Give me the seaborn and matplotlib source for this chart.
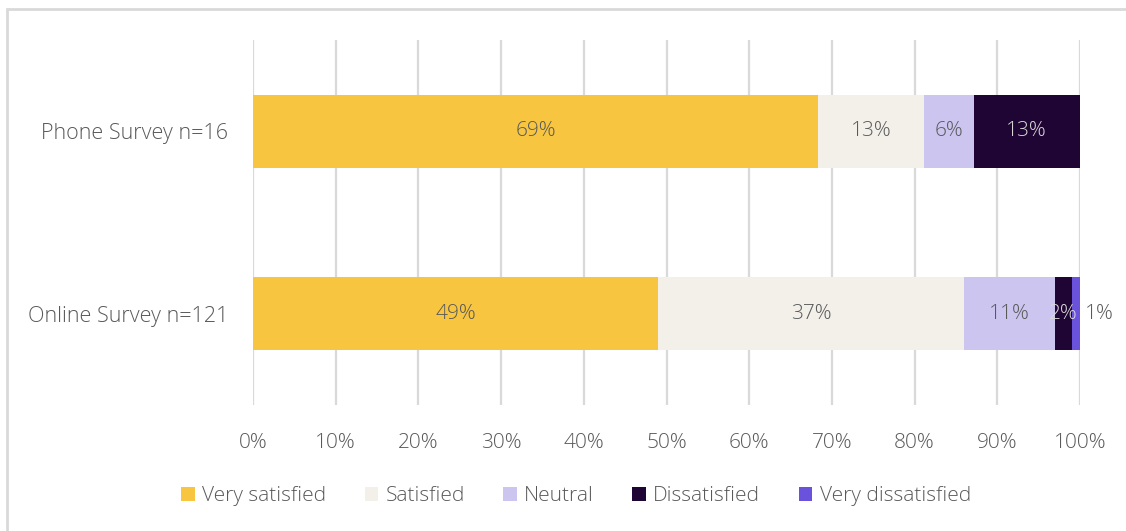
import matplotlib
matplotlib.use("Agg")
import matplotlib.pyplot as plt
import seaborn as sns
import pandas as pd
import numpy as np
from matplotlib.patches import Rectangle, Patch

categories = ["Phone Survey n=16", "Online Survey n=121"]
levels = ["Very satisfied", "Satisfied", "Neutral", "Dissatisfied", "Very dissatisfied"]
very_satisfied = [69, 49]
satisfied = [13, 37]
neutral = [6, 11]
dissatisfied = [13, 2]
very_dissatisfied = [0, 1]
tick_labels = ["0%", "10%", "20%", "30%", "40%", "50%", "60%", "70%", "80%", "90%", "100%"]

colors = ["#F7C540", "#F3F0EA", "#CCC5F0", "#1F0533", "#6B52DC"]
label_colors = ["#595959", "#595959", "#595959", "#D9D9D9", "#595959"]

sns.set_theme(style="white")
plt.rcParams["font.family"] = ["Open Sans", "DejaVu Sans"]
FW = "light"
FS = 15

series = [very_satisfied, satisfied, neutral, dissatisfied, very_dissatisfied]
df = pd.DataFrame({lvl: vals for lvl, vals in zip(levels, series)}, index=categories)
# 100% stacked: normalise each row to its total
share = df.div(df.sum(axis=1), axis=0) * 100

fig = plt.figure(figsize=(11.26, 5.31), dpi=100)
ax = fig.add_axes([253/1126, 1-405/531, (1080-253)/1126, (405-40)/531])

left = np.zeros(len(categories))
for i, lvl in enumerate(levels):
    vals = share[lvl].values
    raw = df[lvl].values
    sns.barplot(x=vals, y=categories, left=left, color=colors[i], orient="h",
                width=0.4, ax=ax, linewidth=0, saturation=1, zorder=3)
    for j, v in enumerate(vals):
        if raw[j] <= 0:
            continue
        cx = left[j] + v / 2
        if lvl == "Very dissatisfied":
            cx = left[j] + v + 2.3
        ax.text(cx, j, f"{raw[j]:d}%", ha="center", va="center",
                color=label_colors[i], fontsize=FS, fontweight=FW, zorder=5)
    left = left + vals

ax.set_xlim(0, 100)
ax.set_ylim(1.5, -0.5)
ax.set_xticks(np.arange(0, 101, 10))
ax.set_xticklabels(tick_labels)
ax.xaxis.grid(True, color="#D9D9D9", linewidth=1.6, zorder=0)
ax.yaxis.grid(False)
for s in ax.spines.values():
    s.set_visible(False)
ax.tick_params(axis="x", length=0, pad=20, labelsize=FS, labelcolor="#595959")
ax.tick_params(axis="y", length=0, pad=18, labelsize=15.5, labelcolor="#595959")
for t in ax.get_xticklabels() + ax.get_yticklabels():
    t.set_fontweight(FW)
ax.set_xlabel("")
ax.set_ylabel("")

handles = [Patch(facecolor=c, edgecolor="none", label=l) for c, l in zip(colors, levels)]
leg = fig.legend(handles=handles, loc="center", bbox_to_anchor=(576/1126, 1-496/531), ncol=5,
                 frameon=False, fontsize=FS, handlelength=0.65, handleheight=0.65,
                 handletextpad=0.35, columnspacing=1.85)
for t in leg.get_texts():
    t.set_color("#595959")
    t.set_fontweight(FW)

fig.patches.append(Rectangle((7/1126, -0.1), 1.2, 1-9/531+0.1, transform=fig.transFigure,
                             fill=False, edgecolor="#D9D9D9", linewidth=2))

fig.savefig("out.png", dpi=100)
